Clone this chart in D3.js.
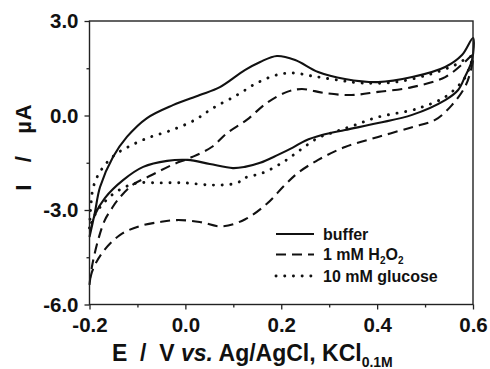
<!DOCTYPE html>
<html><head><meta charset="utf-8">
<script src="https://cdn.jsdelivr.net/npm/d3@7"></script>
<style>body{margin:0;background:#fff}svg{display:block}text{font-family:"Liberation Sans",Arial,sans-serif;font-weight:bold;fill:#111}</style>
</head><body><svg id="c" width="490" height="369"></svg>
<script>
// ---- data ----
const xTicks = [-0.2, 0.0, 0.2, 0.4, 0.6];
const xMinor = [-0.1, 0.1, 0.3, 0.5];
const yTicks = [3.0, 0.0, -3.0, -6.0];
const yMinor = [1.5, -1.5, -4.5];
const seriesNames = ["buffer", "1 mM H2O2", "10 mM glucose"];

// buffer: forward scan (-0.2 -> 0.6) then reverse scan (0.6 -> -0.2)
const bufferE = [-0.2,-0.189,-0.178,-0.151,-0.122,-0.080,-0.026,0.030,0.072,0.124,0.156,0.191,0.229,0.277,0.333,0.402,0.473,0.542,0.577,0.6,
                 0.598,0.583,0.569,0.542,0.473,0.402,0.333,0.285,0.250,0.224,0.193,0.156,0.124,0.099,0.051,0.005,-0.038,-0.088,-0.130,-0.168,-0.189,-0.2];
const bufferI = [-3.86,-3.10,-2.27,-1.32,-0.68,-0.08,0.33,0.65,0.90,1.44,1.70,1.89,1.76,1.38,1.16,1.06,1.22,1.54,1.92,2.46,
                 1.76,1.22,0.81,0.49,0.02,-0.24,-0.46,-0.62,-0.80,-1.02,-1.25,-1.50,-1.63,-1.67,-1.54,-1.41,-1.44,-1.63,-2.05,-2.62,-3.16,-3.86];

// 1 mM H2O2
const h2o2E = [-0.2,-0.195,-0.182,-0.168,-0.153,-0.141,-0.111,-0.070,-0.028,0.014,0.055,0.087,0.128,0.170,0.212,0.243,0.291,0.347,0.402,0.473,0.542,0.583,0.6,
               0.594,0.583,0.556,0.521,0.473,0.402,0.333,0.277,0.235,0.208,0.170,0.124,0.076,0.030,-0.017,-0.053,-0.095,-0.136,-0.174,-0.195,-0.2];
const h2o2I = [-5.38,-4.81,-3.95,-3.32,-2.94,-2.68,-2.21,-1.89,-1.57,-1.32,-1.00,-0.56,-0.14,0.40,0.75,0.84,0.71,0.65,0.75,0.90,1.22,1.70,1.92,
               1.35,0.90,0.33,-0.14,-0.37,-0.68,-1.00,-1.41,-1.82,-2.20,-2.80,-3.30,-3.52,-3.38,-3.32,-3.38,-3.51,-3.79,-4.37,-4.97,-5.38];

// 10 mM glucose
const glucoseE = [-0.2,-0.197,-0.193,-0.184,-0.168,-0.147,-0.120,-0.078,-0.028,0.020,0.058,0.108,0.149,0.191,0.224,0.266,0.316,0.368,0.437,0.506,0.562,0.589,0.6,
                  0.594,0.583,0.542,0.494,0.473,0.402,0.354,0.312,0.277,0.239,0.201,0.160,0.124,0.108,0.058,-0.001,-0.057,-0.099,-0.126,-0.153,-0.174,-0.189,-0.2];
const glucoseI = [-3.57,-2.84,-2.33,-1.95,-1.57,-1.25,-1.00,-0.71,-0.46,-0.14,0.24,0.65,1.03,1.29,1.35,1.25,1.13,1.03,1.06,1.29,1.60,1.83,1.88,
                  1.60,1.19,0.59,0.27,0.17,-0.05,-0.30,-0.52,-0.71,-1.10,-1.51,-1.83,-1.98,-2.14,-2.21,-2.14,-2.14,-2.14,-2.27,-2.52,-2.84,-3.16,-3.57];

// ---- drawing ----
const svg = d3.select("#c");
const L = 89.5, R = 473, T = 21, B = 304.5;
const x = d3.scaleLinear().domain([-0.2, 0.6]).range([L, R]);
const y = d3.scaleLinear().domain([-6, 3]).range([B, T]);
const fmt = v => v.toFixed(1);

const series = [
  {name: seriesNames[0], E: bufferE, I: bufferI, dash: null, width: 2.1, cap: "butt"},
  {name: seriesNames[1], E: h2o2E, I: h2o2I, dash: "10,6", width: 2.1, cap: "butt"},
  {name: seriesNames[2], E: glucoseE, I: glucoseI, dash: "0.1,8.6", width: 2.9, cap: "round"}
];

const line = d3.line().x(d => x(d[0])).y(d => y(d[1])).curve(d3.curveCatmullRom.alpha(0.5));
series.forEach(s => {
  const pts = s.E.map((e, i) => [e, s.I[i]]);
  svg.append("path").attr("d", line(pts)).attr("fill", "none")
    .attr("stroke", "#111").attr("stroke-width", s.width)
    .attr("stroke-dasharray", s.dash).attr("stroke-linecap", s.cap).attr("stroke-linejoin", "round");
});

// frame
svg.append("rect").attr("x", L).attr("y", T).attr("width", R - L).attr("height", B - T)
  .attr("fill", "none").attr("stroke", "#222").attr("stroke-width", 1.4);

// axes
const ax = svg.append("g").attr("transform", `translate(0,${B})`)
  .call(d3.axisBottom(x).tickValues(xTicks).tickSize(5).tickPadding(8).tickFormat(fmt));
const axm = svg.append("g").attr("transform", `translate(0,${B})`)
  .call(d3.axisBottom(x).tickValues(xMinor).tickSize(3).tickFormat(""));
const ay = svg.append("g").attr("transform", `translate(${L},0)`)
  .call(d3.axisLeft(y).tickValues(yTicks).tickSize(5).tickPadding(6).tickFormat(fmt));
const aym = svg.append("g").attr("transform", `translate(${L},0)`)
  .call(d3.axisLeft(y).tickValues(yMinor).tickSize(3).tickFormat(""));
[ax, axm, ay, aym].forEach(g => {
  g.select(".domain").remove();
  g.selectAll("line").attr("stroke", "#222").attr("stroke-width", 1.3);
  g.selectAll("text").style("font-family", '"Liberation Sans",Arial,sans-serif')
    .style("font-weight", "bold").style("font-size", "20.5px").attr("fill", "#111");
});

// axis titles
const xt = svg.append("text").attr("x", 112).attr("y", 361).style("font-size", "23px");
xt.append("tspan").attr("xml:space", "preserve").style("white-space", "pre").text("E  /  V ");
xt.append("tspan").style("font-style", "italic").text("vs.");
xt.append("tspan").text(" Ag/AgCl, KCl");
xt.append("tspan").attr("dy", 6).style("font-size", "14px").text("0.1M");

svg.append("text").attr("transform", "translate(31,147) rotate(-90)")
  .attr("text-anchor", "middle").style("font-size", "22px").style("white-space", "pre")
  .style("letter-spacing", "1px")
  .text("I   /   \u00B5A");

// legend
const lg = svg.append("g");
const rows = [234, 254.5, 276];
series.forEach((s, i) => {
  lg.append("line").attr("x1", 276).attr("x2", 314).attr("y1", rows[i]).attr("y2", rows[i])
    .attr("stroke", "#111").attr("stroke-width", s.width).attr("stroke-dasharray", s.dash)
    .attr("stroke-linecap", s.cap);
  const t = lg.append("text").attr("x", 323).attr("y", rows[i] + 5.5).style("font-size", "16px");
  if (s.name === "1 mM H2O2") {
    t.append("tspan").text("1 mM H");
    t.append("tspan").attr("dy", 4).style("font-size", "10px").text("2");
    t.append("tspan").attr("dy", -4).text("O");
    t.append("tspan").attr("dy", 4).style("font-size", "10px").text("2");
  } else {
    t.text(s.name);
  }
});
</script></body></html>
